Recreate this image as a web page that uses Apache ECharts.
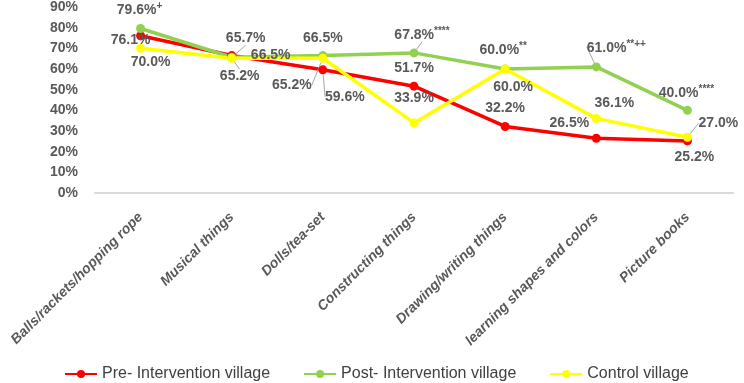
<!DOCTYPE html>
<html>
<head>
<meta charset="utf-8">
<script src="https://cdn.jsdelivr.net/npm/echarts@6/dist/echarts.min.js"></script>
<style>
html,body{margin:0;padding:0;background:#fff;}
#main{width:744px;height:383px;}
</style>
</head>
<body>
<div id="main"></div>
<script>
var categories = ['Balls/rackets/hopping rope', 'Musical things', 'Dolls/tea-set', 'Constructing things',
	'Drawing/writing things', 'learning shapes and colors', 'Picture books'];
var preValues = [76.1, 66.5, 59.6, 51.7, 32.2, 26.5, 25.2];
var postValues = [79.6, 65.7, 66.5, 67.8, 60.0, 61.0, 40.0];
var controlValues = [70.0, 65.2, 65.2, 33.9, 60.0, 36.1, 27.0];
// significance marks written after the post-intervention values
var postMarks = ['+', '', '', '****', '**', '**++', '****'];

// label offsets from the point (px) and which labels get a leader line
var preOffsets = [[-10, 4], [39, 0], [22, 27], [0, -18], [0, -18], [-27, -15], [7, 16]];
var postOffsets = [[-1, -18], [14, -19], [0, -17], [8, -18], [-2, -19], [20, -19], [-1, -17]];
var controlOffsets = [[10, 14], [8, 18], [-31, 27], [0, -25], [8, 18], [18, -15], [31, -14]];
var preLeaders = [0, 0, 1, 0, 0, 0, 0];
var postLeaders = [0, 1, 0, 1, 0, 1, 0];
var controlLeaders = [0, 1, 1, 0, 0, 0, 1];

var myChart = echarts.init(document.getElementById('main'));

function makeData(values, leaders) {
	return values.map(function (v, i) {
		return {
			value: v,
			labelLine: {show: !!leaders[i]}
		};
	});
}

function makeSeries(name, color, values, offsets, leaders, marks) {
	return {
		name: name,
		type: 'line',
		symbol: 'circle',
		symbolSize: 9,
		lineStyle: {color: color, width: 3.5},
		itemStyle: {color: color},
		data: makeData(values, leaders),
		label: {
			show: true,
			position: 'inside',
			color: '#595959',
			fontSize: 14,
			fontWeight: 'bold',
			fontFamily: 'Liberation Sans, Arial, sans-serif',
			formatter: function (p) {
				var s = p.value.toFixed(1) + '%';
				if (marks && marks[p.dataIndex]) {
					s += '{s|' + marks[p.dataIndex] + '}';
				}
				return s;
			},
			rich: {
				s: {fontSize: 10, fontWeight: 'bold', color: '#595959', verticalAlign: 'top', padding: [0, 0, 8, 0]}
			}
		},
		labelLine: {
			show: false,
			lineStyle: {color: '#a6a6a6', width: 1}
		},
		labelLayout: function (p) {
			var o = offsets[p.dataIndex];
			return {dx: o[0], dy: o[1]};
		}
	};
}

var option = {
	animation: false,
	backgroundColor: '#fff',
	grid: {left: 95, right: 11, top: 7, bottom: 190, containLabel: false},
	legend: {
		bottom: 1,
		left: 64,
		padding: [0, 0],
		itemWidth: 32,
		itemHeight: 10,
		itemGap: 33,
		textStyle: {color: '#404040', fontSize: 16, fontFamily: 'Liberation Sans, Arial, sans-serif'},
		data: ['Pre- Intervention village', 'Post- Intervention village', 'Control village']
	},
	xAxis: {
		type: 'category',
		data: categories,
		boundaryGap: true,
		axisLine: {lineStyle: {color: '#d9d9d9', width: 2}},
		axisTick: {show: false},
		axisLabel: {
			rotate: 45,
			margin: 22,
			interval: 0,
			color: '#595959',
			fontSize: 14,
			fontWeight: 'bold',
			fontStyle: 'italic',
			fontFamily: 'Liberation Sans, Arial, sans-serif'
		}
	},
	yAxis: {
		type: 'value',
		min: 0,
		max: 90,
		interval: 10,
		axisLine: {show: false},
		axisTick: {show: false},
		splitLine: {show: false},
		axisLabel: {
			formatter: '{value}%',
			margin: 17,
			color: '#595959',
			fontSize: 14,
			fontWeight: 'bold',
			fontFamily: 'Liberation Sans, Arial, sans-serif'
		}
	},
	series: [
		makeSeries('Pre- Intervention village', '#ff0000', preValues, preOffsets, preLeaders, null),
		makeSeries('Post- Intervention village', '#92d050', postValues, postOffsets, postLeaders, postMarks),
		makeSeries('Control village', '#ffff00', controlValues, controlOffsets, controlLeaders, null)
	]
};

myChart.setOption(option);
</script>
</body>
</html>
